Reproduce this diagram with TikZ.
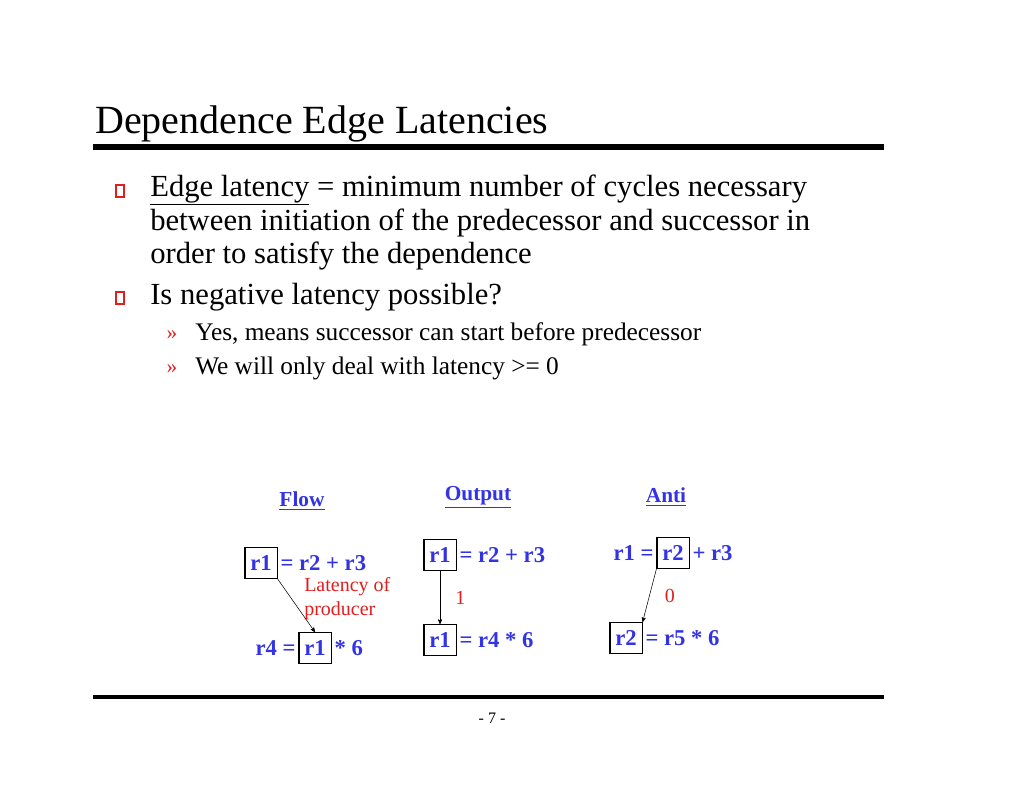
\documentclass[tikz,border=0pt]{standalone}
\usepackage{fontspec}
\setmainfont{Liberation Serif}
\usetikzlibrary{arrows, positioning}

\definecolor{regblue}{RGB}{51,51,230}
\definecolor{bulletred}{RGB}{225,30,30}

\begin{document}
\begin{tikzpicture}[x=0.75pt, y=-0.75pt]
				\tikzset {>=stealth', node distance=0pt,
					body/.style={anchor=west, inner sep=0pt, font=\fontsize{23}{27}\selectfont},
					sub/.style={anchor=west, inner sep=0pt, font=\fontsize{19}{22}\selectfont},
					reg/.style={draw, thick, inner xsep=4pt, inner ysep=2pt, minimum height=23pt, text=regblue, font=\bfseries\fontsize{17}{20}\selectfont},
					code/.style={inner sep=2pt, text=regblue, font=\bfseries\fontsize{17}{20}\selectfont},
					head/.style={text=regblue, font=\bfseries\fontsize{16}{19}\selectfont},
					lat/.style={text=bulletred, font=\fontsize{15}{18}\selectfont},
					box/.style={draw=bulletred, thick, minimum width=6pt, minimum height=9pt, inner sep=0pt} }
					\useasboundingbox (0,0) rectangle (1024,791);

					% title and rules
					\node[anchor=base west, inner sep=0pt, font=\fontsize{30}{36}\selectfont] (title) at (95,134) {Dependence Edge Latencies};
					\draw[line width=4pt] (93,147) -- (884,147);
					\draw[line width=3pt] (93,697) -- (884,697);
					\node[font=\fontsize{12}{14}\selectfont] (page) at (492,718) {- 7 -};

					% bullets
					\node[box] (b1) at (120,191) {};
					\node[box] (b2) at (120,298) {};
					\node[body] (l1) at (150,190) {\underline{Edge latency} = minimum number of cycles necessary};
					\node[body] (l2) at (150,223) {between initiation of the predecessor and successor in};
					\node[body] (l3) at (150,256) {order to satisfy the dependence};
					\node[body] (l4) at (150,297) {Is negative latency possible?};
					\node[text=bulletred, font=\fontsize{16}{18}\selectfont] (s1) at (172,335) {»};
					\node[text=bulletred, font=\fontsize{16}{18}\selectfont] (s2) at (172,369) {»};
					\node[sub] (l5) at (195,334) {Yes, means successor can start before predecessor};
					\node[sub] (l6) at (195,368) {We will only deal with latency >= 0};

					% flow
					\node[head] (flow) at (302,501) {\underline{Flow}};
					\node[reg] (f1) at (261,563) {r1};
					\node[code, right=of f1] (f1r) {= r2 + r3};
					\node[reg] (f2) at (315,648) {r1};
					\node[code, left=of f2] (f2l) {r4 =};
					\node[code, right=of f2] (f2r) {* 6};
					\node[lat, anchor=west, inner sep=0pt] (latA) at (304,587) {Latency of};
					\node[lat, anchor=west, inner sep=0pt] (latB) at (304,611) {producer};
					\draw[->] (f1.south east) -- (f2.north);

					% output
					\node[head] (output) at (478,497) {\underline{Output}};
					\node[reg] (o1) at (440,555) {r1};
					\node[code, right=of o1] (o1r) {= r2 + r3};
					\node[reg] (o2) at (440,640) {r1};
					\node[code, right=of o2] (o2r) {= r4 * 6};
					\draw[->] (o1) -- node[lat, right=8pt] {1} (o2);

					% anti
					\node[head] (anti) at (666,497) {\underline{Anti}};
					\node[reg] (a1) at (673,553) {r2};
					\node[code, left=of a1] (a1l) {r1 =};
					\node[code, right=of a1] (a1r) {+ r3};
					\node[reg] (a2) at (626,638) {r2};
					\node[code, right=of a2] (a2r) {= r5 * 6};
					\draw[->] (a1.south west) -- node[lat, right=8pt] {0} (a2.north east);
			\end{tikzpicture}
\end{document}
